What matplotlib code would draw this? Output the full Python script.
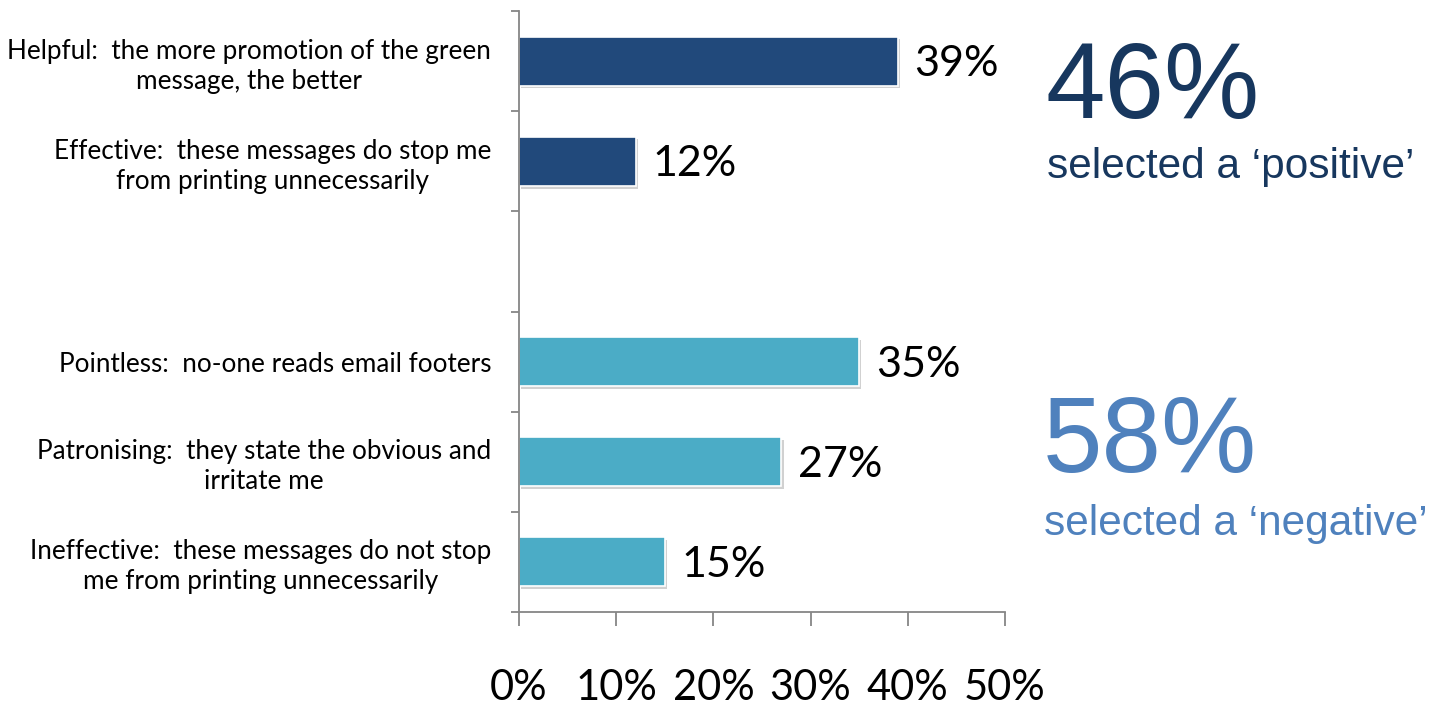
import numpy as np
import matplotlib.pyplot as plt
import matplotlib.patheffects as pe

# data
labels = [
    "Helpful:  the more promotion of the green\nmessage, the better",
    "Effective:  these messages do stop me\nfrom printing unnecessarily",
    "",
    "Pointless:  no-one reads email footers",
    "Patronising:  they state the obvious and\nirritate me",
    "Ineffective:  these messages do not stop\nme from printing unnecessarily",
]
values = [39, 12, None, 35, 27, 15]
groups = ["pos", "pos", None, "neg", "neg", "neg"]
xticks = [0, 10, 20, 30, 40, 50]
summary = {"pos": ("46%", "selected a \u2018positive\u2019"),
           "neg": ("58%", "selected a \u2018negative\u2019")}

bar_colors = {"pos": "#21497B", "neg": "#4BACC6"}
text_colors = {"pos": "#17375E", "neg": "#4F81BD"}
axis_gray = "#868686"
label_font = ["Lato", "DejaVu Sans"]

W, H = 1431, 706
fig = plt.figure(figsize=(W / 100, H / 100), dpi=100)
ax = fig.add_axes([519 / W, 1 - 612 / H, (1005 - 519) / W, (612 - 11) / H])

shadow = [pe.SimplePatchShadow(offset=(1.5, -2), shadow_rgbFace="#999999", alpha=0.45), pe.Normal()]
for i, (v, g) in enumerate(zip(values, groups)):
    if v is None:
        continue
    b = ax.barh(i, v, height=0.49, color=bar_colors[g], edgecolor="white", linewidth=1.2)
    for p in b:
        p.set_path_effects(shadow)
    ax.text(v + 1.7, i + 0.03, f"{v}%", va="center", ha="left", fontsize=31,
            family=label_font, color="black")

ax.set_xlim(0, 50)
ax.set_ylim(len(labels) - 0.5, -0.5)

# major ticks at the category boundaries, labels on minor ticks at the centres
ax.set_yticks(np.arange(-0.5, len(labels), 1.0))
ax.set_yticklabels([])
ax.set_yticks(range(len(labels)), minor=True)
ax.set_yticklabels(labels, minor=True, fontsize=18.8, family=label_font,
                   multialignment="center", linespacing=1.25)
ax.tick_params(axis="y", which="major", length=6, width=1.3, color=axis_gray, direction="out")
ax.tick_params(axis="y", which="minor", length=0, pad=20)

ax.set_xticks(xticks)
ax.set_xticklabels([f"{t}%" for t in xticks], fontsize=30, family=label_font)
ax.tick_params(axis="x", length=10, width=1.3, color=axis_gray, direction="out", pad=31)

for s in ["top", "right"]:
    ax.spines[s].set_visible(False)
for s in ["left", "bottom"]:
    ax.spines[s].set_color(axis_gray)
    ax.spines[s].set_linewidth(1.3)

# summary call-outs on the right
big_font = ["Liberation Sans", "DejaVu Sans"]
fig.text(1046 / W, 1 - 118 / H, summary["pos"][0], fontsize=77, family=big_font,
         color=text_colors["pos"], va="baseline", ha="left")
fig.text(1047 / W, 1 - 178 / H, summary["pos"][1], fontsize=30.5, family=big_font,
         color=text_colors["pos"], va="baseline", ha="left")
fig.text(1043 / W, 1 - 472 / H, summary["neg"][0], fontsize=77, family=big_font,
         color=text_colors["neg"], va="baseline", ha="left")
fig.text(1044 / W, 1 - 535 / H, summary["neg"][1], fontsize=30.5, family=big_font,
         color=text_colors["neg"], va="baseline", ha="left")

fig.savefig("out.png", dpi=100)
